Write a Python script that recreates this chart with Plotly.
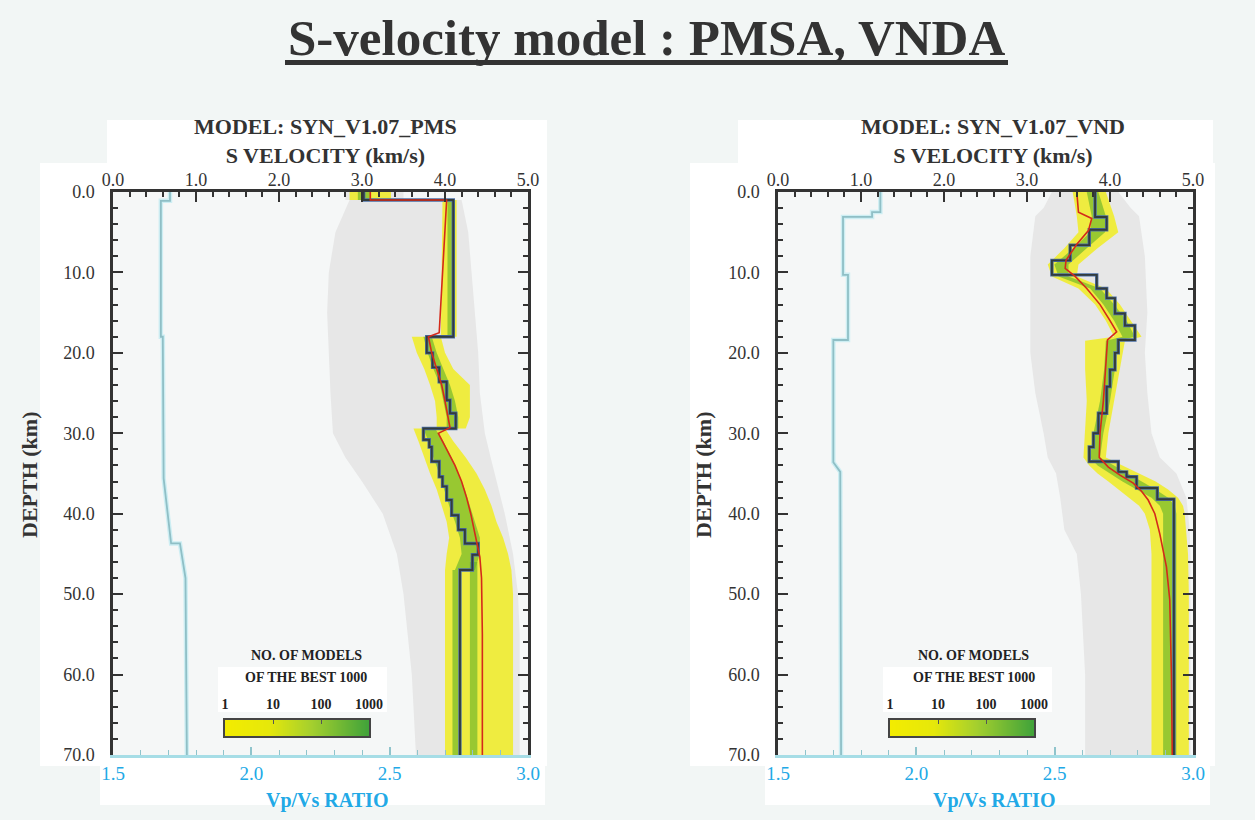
import plotly.graph_objects as go

W, H = 1255, 820
SERIF = "Liberation Serif"

# ---------------- data ----------------
vel_range = [0, 5]
ratio_range = [1.5, 3.0]
depth_range = [70, 0]
count_pos = [0, 1, 2, 3]
count_labels = ["1", "10", "100", "1000"]

# ---- PMSA ----
pms_best_top = [0, 1.0, 18.0, 20.0, 21.8, 23.6, 25.9, 27.5, 29.4, 30.8, 31.7, 33.5, 35.4, 36.6, 38.3, 40.2, 42.0, 43.7, 45.1, 47.0]
pms_best_vs = [3.02, 4.10, 3.78, 3.85, 3.93, 4.02, 4.06, 4.13, 3.74, 3.81, 3.84, 3.93, 3.97, 4.02, 4.08, 4.16, 4.24, 4.40, 4.33, 4.18]
pms_mean_depth = [0, 1.0, 1.0, 17.5, 18.0, 20, 22, 24, 26, 28, 29.3, 30.0, 32, 34, 36, 38, 40, 42.5, 45.4, 48, 55, 70]
pms_mean_vs = [3.1, 3.1, 4.02, 3.93, 3.8, 3.84, 3.9, 3.96, 4.0, 4.04, 4.06, 3.92, 4.02, 4.12, 4.2, 4.26, 4.31, 4.36, 4.42, 4.44, 4.45, 4.45]
pms_ratio_depth = [0, 1.1, 1.1, 18, 18, 35.6, 43.7, 43.7, 48, 70]
pms_ratio = [1.706, 1.706, 1.673, 1.673, 1.68, 1.683, 1.71, 1.742, 1.762, 1.767]
pms_gray_depth = [0, 1, 1, 5, 10, 15, 20, 25, 30, 33, 36, 40, 45, 50, 55, 60, 70]
pms_gray_lo = [2.8, 2.8, 2.85, 2.68, 2.6, 2.58, 2.6, 2.62, 2.65, 2.8, 3.0, 3.25, 3.42, 3.5, 3.55, 3.6, 3.65]
pms_gray_hi = [3.5, 3.5, 4.2, 4.28, 4.32, 4.36, 4.4, 4.42, 4.48, 4.55, 4.62, 4.72, 4.82, 4.88, 4.9, 4.9, 4.9]
pms_yel_depth = [0, 1, 1, 18, 18, 20, 22, 24, 26, 28, 29.4, 29.4, 31, 33, 35, 37, 39, 41, 43, 45, 47, 50, 70]
pms_yel_lo = [2.85, 2.85, 3.97, 3.95, 3.6, 3.66, 3.75, 3.82, 3.88, 3.9, 3.9, 3.62, 3.68, 3.75, 3.82, 3.9, 3.96, 4.02, 4.05, 4.02, 4.0, 4.0, 4.0]
pms_yel_hi = [3.35, 3.35, 4.14, 4.14, 3.95, 4.0, 4.1, 4.3, 4.3, 4.3, 4.25, 4.0, 4.1, 4.25, 4.38, 4.48, 4.56, 4.62, 4.7, 4.76, 4.8, 4.82, 4.82]
pms_grn_depth = [0, 1, 1, 18, 18, 20, 22, 24, 26, 28, 29.4, 29.4, 31, 33, 35, 37, 39, 41, 43, 45, 47, 47, 70]
pms_grn_lo = [2.95, 2.95, 4.03, 4.03, 3.74, 3.79, 3.86, 3.94, 3.98, 4.02, 4.02, 3.74, 3.8, 3.86, 3.93, 3.99, 4.05, 4.12, 4.18, 4.2, 4.12, 4.09, 4.09]
pms_grn_hi = [3.1, 3.1, 4.11, 4.11, 3.84, 3.9, 3.98, 4.06, 4.12, 4.16, 4.16, 3.88, 3.98, 4.08, 4.16, 4.24, 4.3, 4.36, 4.42, 4.42, 4.36, 4.16, 4.16]
pms_grn2_depth = [46, 70]
pms_grn2_lo = [4.3, 4.3]
pms_grn2_hi = [4.39, 4.39]

# ---- VNDA ----
vnd_best_top = [0, 3.1, 4.7, 6.6, 8.5, 10.3, 12.0, 13.2, 15.1, 16.6, 18.4, 20.0, 22.1, 24.2, 27.5, 30.0, 31.7, 33.5, 34.8, 35.4, 36.8, 38.2]
vnd_best_vs = [3.82, 3.96, 3.75, 3.52, 3.30, 3.84, 3.96, 4.06, 4.18, 4.30, 4.10, 4.06, 4.00, 3.96, 3.86, 3.80, 3.75, 4.10, 4.20, 4.32, 4.57, 4.77]
vnd_mean_depth = [0, 2.5, 3.3, 4.8, 6.5, 8.5, 9.5, 10.5, 12, 14, 16, 17.4, 18.4, 22, 26, 30, 33, 34.2, 35.2, 36.2, 37.2, 38.3, 40, 42.5, 46.6, 50.7, 60, 70]
vnd_mean_vs = [3.6, 3.62, 3.78, 3.74, 3.6, 3.47, 3.46, 3.58, 3.72, 3.88, 4.0, 4.08, 3.97, 3.95, 3.92, 3.88, 3.87, 3.98, 4.12, 4.28, 4.38, 4.46, 4.54, 4.6, 4.68, 4.72, 4.74, 4.75]
vnd_ratio_depth = [0, 2.5, 2.5, 3.1, 3.1, 10.3, 10.3, 18.4, 18.4, 33.6, 34.8, 70]
vnd_ratio = [1.87, 1.87, 1.84, 1.84, 1.735, 1.735, 1.753, 1.753, 1.70, 1.70, 1.725, 1.728]
vnd_gray_depth = [0, 2, 3, 8, 15, 20, 25, 30, 33, 35, 38, 42, 45, 50, 60, 70]
vnd_gray_lo = [3.3, 3.2, 3.1, 3.04, 3.04, 3.04, 3.1, 3.2, 3.25, 3.35, 3.4, 3.45, 3.6, 3.65, 3.7, 3.7]
vnd_gray_hi = [4.1, 4.25, 4.35, 4.42, 4.45, 4.42, 4.45, 4.5, 4.6, 4.8, 4.92, 4.96, 4.97, 4.97, 4.97, 4.97]
vnd_yel_depth = [0, 3, 5, 7, 9, 10.5, 12, 14, 16, 18, 18.5, 22, 26, 30, 33, 34, 35, 36, 37, 38, 39, 40, 42, 45, 50, 70]
vnd_yel_lo = [3.55, 3.6, 3.62, 3.45, 3.25, 3.3, 3.62, 3.82, 3.95, 4.05, 3.7, 3.7, 3.72, 3.7, 3.68, 3.75, 3.85, 3.98, 4.1, 4.22, 4.35, 4.42, 4.48, 4.5, 4.5, 4.5]
vnd_yel_hi = [3.95, 4.05, 4.1, 3.85, 3.62, 3.6, 3.95, 4.12, 4.25, 4.38, 4.18, 4.12, 4.05, 3.98, 3.95, 4.15, 4.35, 4.55, 4.7, 4.82, 4.88, 4.9, 4.92, 4.94, 4.95, 4.95]
vnd_grn_depth = vnd_yel_depth
vnd_grn_lo = [3.72, 3.78, 3.76, 3.56, 3.33, 3.38, 3.76, 3.92, 4.05, 4.15, 3.95, 3.93, 3.88, 3.8, 3.76, 3.85, 4.0, 4.15, 4.32, 4.5, 4.6, 4.64, 4.64, 4.64, 4.64, 4.64]
vnd_grn_hi = [3.86, 3.95, 3.94, 3.72, 3.5, 3.5, 3.88, 4.05, 4.2, 4.3, 4.1, 4.06, 4.0, 3.92, 3.88, 4.05, 4.22, 4.38, 4.55, 4.7, 4.78, 4.8, 4.8, 4.8, 4.8, 4.8]

# ---------------- helpers ----------------
def px(x):
    return x / W

def py(y):
    return 1 - y / H

GRAY = "#e7e7e7"
YEL = "rgba(242,238,0,0.72)"
GRN = "rgba(98,178,40,0.62)"
BEST_EDGE = "#4a6fa8"
BEST = "#333c3c"
RED = "#d42a1a"
RATIO_HALO = "#cdeef3"
RATIO = "#8fbfc6"

fig = go.Figure()

def band(depth, lo, hi, color, xa, ya):
    fig.add_trace(go.Scatter(
        x=list(lo) + list(hi)[::-1], y=list(depth) + list(depth)[::-1],
        fill="toself", fillcolor=color, line=dict(width=0), mode="lines",
        hoverinfo="skip", showlegend=False, xaxis=xa, yaxis=ya))

def panel(bands, rd, r, bt, bv, md, mv, xv, xr, ya):
    for (d, lo, hi, c) in bands:
        band(d, lo, hi, c, xv, ya)
    fig.add_trace(go.Scatter(x=r, y=rd, mode="lines", line=dict(color=RATIO_HALO, width=4.5),
                             hoverinfo="skip", showlegend=False, xaxis=xr, yaxis=ya))
    fig.add_trace(go.Scatter(x=r, y=rd, mode="lines", line=dict(color=RATIO, width=1.8),
                             showlegend=False, xaxis=xr, yaxis=ya))
    sx = list(bv) + [bv[-1]]
    sy = list(bt) + [depth_range[0]]
    fig.add_trace(go.Scatter(x=sx, y=sy, mode="lines", line=dict(color=BEST_EDGE, width=3.4, shape="vh"),
                             hoverinfo="skip", showlegend=False, xaxis=xv, yaxis=ya))
    fig.add_trace(go.Scatter(x=sx, y=sy, mode="lines", line=dict(color=BEST, width=1.9, shape="vh"),
                             showlegend=False, xaxis=xv, yaxis=ya))
    fig.add_trace(go.Scatter(x=mv, y=md, mode="lines", line=dict(color=RED, width=1.6),
                             showlegend=False, xaxis=xv, yaxis=ya))

panel([(pms_gray_depth, pms_gray_lo, pms_gray_hi, GRAY),
       (pms_yel_depth, pms_yel_lo, pms_yel_hi, YEL),
       (pms_grn_depth, pms_grn_lo, pms_grn_hi, GRN),
       (pms_grn2_depth, pms_grn2_lo, pms_grn2_hi, GRN)],
      pms_ratio_depth, pms_ratio, pms_best_top, pms_best_vs, pms_mean_depth, pms_mean_vs, "x", "x2", "y")
panel([(vnd_gray_depth, vnd_gray_lo, vnd_gray_hi, GRAY),
       (vnd_yel_depth, vnd_yel_lo, vnd_yel_hi, YEL),
       (vnd_grn_depth, vnd_grn_lo, vnd_grn_hi, GRN)],
      vnd_ratio_depth, vnd_ratio, vnd_best_top, vnd_best_vs, vnd_mean_depth, vnd_mean_vs, "x3", "x4", "y2")

CSCALE = [[0, "#f3ec00"], [0.3, "#e6e80a"], [0.6, "#a4cf2e"], [1, "#3fa23a"]]
for xa, ya in (("x5", "y3"), ("x6", "y4")):
    fig.add_trace(go.Heatmap(z=[count_pos], x=count_pos, y=[0], colorscale=CSCALE,
                             zsmooth="best", showscale=False, hoverinfo="skip",
                             xaxis=xa, yaxis=ya))

tickfont = dict(family=SERIF, size=18, color="#333")
bluefont = dict(family=SERIF, size=19, color="#22a9e6")

def vel_axis(dom, anchor):
    return dict(domain=dom, anchor=anchor, side="top", range=vel_range, tick0=0, dtick=1,
                tickformat=".1f", ticks="inside", ticklen=10, tickwidth=2, tickcolor="#333",
                showline=True, linecolor="#333", linewidth=2.5, showgrid=False, zeroline=False,
                minor=dict(dtick=0.2, tick0=0, ticks="inside", ticklen=5, tickwidth=1.5, tickcolor="#333"),
                tickfont=tickfont, ticklabelstandoff=-4, automargin=False)

def ratio_axis(over, anchor):
    return dict(overlaying=over, anchor=anchor, side="bottom", range=ratio_range, tick0=1.5, dtick=0.5,
                tickformat=".1f", ticks="inside", ticklen=8, tickwidth=1.5, tickcolor="#8fc4cc",
                showline=True, linecolor="#a6dde6", linewidth=2.5, showgrid=False, zeroline=False,
                minor=dict(dtick=0.1, tick0=1.5, ticks="inside", ticklen=5, tickwidth=1.2, tickcolor="#8fc4cc"),
                tickfont=bluefont, ticklabelstandoff=-1, automargin=False)

def depth_axis(anchor):
    return dict(domain=[py(755), py(192)], anchor=anchor, range=depth_range, tick0=0, dtick=10,
                tickformat=".1f", ticks="inside", ticklen=10, tickwidth=2, tickcolor="#333",
                showline=True, linecolor="#333", linewidth=2.5, mirror="ticks", showgrid=False,
                zeroline=False,
                minor=dict(dtick=2, tick0=0, ticks="inside", ticklen=5, tickwidth=1.5, tickcolor="#333"),
                tickfont=tickfont, ticklabelstandoff=12, automargin=False)

def leg_x(dom, anchor):
    return dict(domain=dom, anchor=anchor, side="top", range=[0, 3], tickvals=count_pos,
                ticktext=count_labels, ticks="inside", ticklen=4, tickwidth=1.2, tickcolor="#555",
                showline=True, linecolor="#444", linewidth=1.5, mirror=True, showgrid=False,
                zeroline=False, tickfont=dict(family=SERIF, size=14, color="#222", weight="bold"),
                ticklabelstandoff=4, automargin=False)

def leg_y(dom, anchor):
    return dict(domain=dom, anchor=anchor, range=[-0.5, 0.5], showticklabels=False, ticks="",
                showline=True, linecolor="#444", linewidth=1.5, mirror=True, showgrid=False,
                zeroline=False, automargin=False)

L0, L1 = 113, 528
R0, R1 = 778, 1193
fig.update_layout(
    width=W, height=H, autosize=False,
    margin=dict(l=0, r=0, t=0, b=0, pad=0, autoexpand=False),
    paper_bgcolor="#f2f6f5", plot_bgcolor="rgba(0,0,0,0)",
    xaxis=vel_axis([px(L0), px(L1)], "y"),
    xaxis2=ratio_axis("x", "y"),
    yaxis=depth_axis("x"),
    xaxis3=vel_axis([px(R0), px(R1)], "y2"),
    xaxis4=ratio_axis("x3", "y2"),
    yaxis2=depth_axis("x3"),
    xaxis5=leg_x([px(225), px(369)], "y3"),
    yaxis3=leg_y([py(736), py(720)], "x5"),
    xaxis6=leg_x([px(890), px(1034)], "y4"),
    yaxis4=leg_y([py(736), py(720)], "x6"),
    showlegend=False,
)

# background patches (white image areas) and plot interiors
shapes = []
for (x0, y0, x1, y1) in [(107, 120, 547, 163), (40, 163, 547, 766), (100, 760, 545, 805),
                         (738, 120, 1213, 163), (690, 163, 1215, 766), (765, 760, 1210, 805)]:
    shapes.append(dict(type="rect", xref="paper", yref="paper", x0=px(x0), x1=px(x1), y0=py(y1), y1=py(y0),
                       fillcolor="white", line=dict(width=0), layer="below"))
for xr, yr in (("x domain", "y domain"), ("x3 domain", "y2 domain")):
    shapes.append(dict(type="rect", xref=xr, yref=yr, x0=0, x1=1, y0=0, y1=1,
                       fillcolor="#f5f7f7", line=dict(width=0), layer="below"))
for (x0, x1) in ((218, 387), (883, 1052)):
    shapes.append(dict(type="rect", xref="paper", yref="paper", x0=px(x0), x1=px(x1), y0=py(712), y1=py(667),
                       fillcolor="white", line=dict(width=0), layer="below"))
# title underline
shapes.append(dict(type="rect", xref="paper", yref="paper", x0=px(285), x1=px(1008), y0=py(65), y1=py(60),
                   fillcolor="#333", line=dict(width=0), layer="above"))
fig.update_layout(shapes=shapes)

ann = []
def txt(t, x, y, size, color="#333", angle=0):
    ann.append(dict(text="<b>%s</b>" % t, x=px(x), y=py(y), xref="paper", yref="paper",
                    showarrow=False, xanchor="center", yanchor="middle", textangle=angle,
                    font=dict(family=SERIF, size=size, color=color)))

txt("S-velocity model : PMSA, VNDA", 646, 38, 51)
for (cx, name, vcx, depx, legx) in ((325, "MODEL: SYN_V1.07_PMS", 327, 30, 306),
                                     (993, "MODEL: SYN_V1.07_VND", 994, 704, 974)):
    txt(name + "<br>S VELOCITY (km/s)", cx, 141, 22)
    txt("DEPTH (km)", depx, 475, 22, angle=-90)
    txt("Vp/Vs RATIO", vcx, 800, 20, color="#22a9e6")
    txt("NO. OF MODELS", legx, 655, 14, color="#222")
    txt("OF THE BEST 1000", legx, 677, 14, color="#222")
fig.update_layout(annotations=ann)

fig.write_html("out.html", config={"displayModeBar": False},
               post_script="document.body.style.margin='0';")
